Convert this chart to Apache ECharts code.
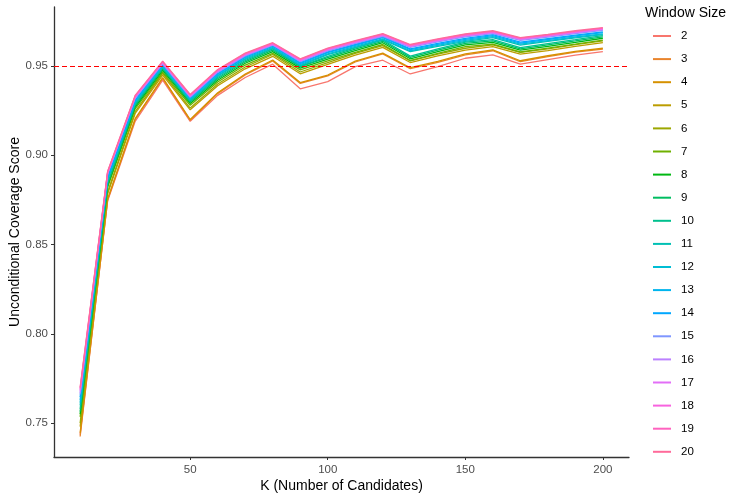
<!DOCTYPE html>
<html>
<head>
<meta charset="utf-8">
<script src="https://cdn.jsdelivr.net/npm/echarts@6/dist/echarts.min.js"></script>
<style>html,body{margin:0;padding:0;background:#fff}#c{width:750px;height:500px}</style>
</head>
<body>
<div id="c"></div>
<script>
const kValues = [10,20,30,40,50,60,70,80,90,100,110,120,130,140,150,160,170,180,190,200];
const windowSizes = ['2','3','4','5','6','7','8','9','10','11','12','13','14','15','16','17','18','19','20'];
const xTicks = [50,100,150,200];
const yTicks = [0.75,0.80,0.85,0.90,0.95];
const targetLevel = 0.95;

const w2  = [.7435,.8745,.919,.942,.919,.9335,.9435,.951,.9372,.9412,.9496,.9532,.9455,.9496,.9543,.9562,.951,.9535,.956,.958];
const w3  = [.7425,.875,.920,.943,.9195,.9345,.945,.9528,.9402,.9444,.9522,.9567,.9485,.952,.9562,.9585,.9524,.9552,.9577,.9594];
const w4  = [.7445,.8755,.9205,.9435,.920,.935,.9455,.9533,.9407,.9449,.9527,.9572,.949,.9525,.9567,.959,.9529,.9557,.9582,.9599];
const w5  = [.748,.8784,.9234,.9449,.9254,.9389,.9484,.9554,.9456,.9509,.956,.9604,.9519,.9556,.9589,.9608,.9566,.9586,.9609,.963];
const w6  = [.750,.8794,.9244,.9459,.9264,.9399,.9494,.9564,.9466,.9519,.957,.9614,.9529,.9566,.9599,.9618,.9576,.9596,.9619,.964];
const w7  = [.7535,.882,.926,.9465,.928,.941,.9505,.957,.9478,.9528,.9576,.962,.953,.957,.9608,.9622,.9578,.96,.9622,.9645];
const w8  = [.755,.883,.927,.9475,.929,.942,.9515,.958,.9488,.9538,.9586,.963,.954,.958,.9618,.9632,.9588,.961,.9632,.9655];
const w9  = [.7565,.8838,.9278,.9483,.9298,.9428,.9523,.9588,.9496,.9546,.9594,.9638,.9548,.9588,.9626,.964,.9596,.9618,.964,.9663];
const w10 = [.758,.8845,.9285,.949,.9305,.9435,.953,.9595,.9498,.9553,.9601,.9645,.9555,.9595,.9633,.9647,.9603,.9625,.9647,.967];
const w11 = [.760,.8862,.9292,.9492,.9307,.9442,.9537,.9599,.9502,.9563,.9604,.9647,.958,.961,.9638,.9659,.9617,.9637,.9657,.9675];
const w12 = [.7615,.8867,.9297,.9497,.9312,.9447,.9542,.9604,.9507,.9568,.9609,.9652,.9585,.9615,.9643,.9664,.9622,.9642,.9662,.968];
const w13 = [.763,.8873,.9303,.9503,.9318,.9453,.9548,.961,.9513,.9574,.9615,.9658,.9591,.9621,.9649,.967,.9628,.9648,.9668,.9686];
const w14 = [.7645,.8878,.9308,.9508,.9323,.9458,.9553,.9615,.9518,.9579,.962,.9663,.9596,.9626,.9654,.9675,.9633,.9653,.9673,.9691];
const w15 = [.766,.8894,.9319,.9511,.9324,.9464,.9556,.9617,.9524,.9584,.9626,.9665,.9604,.9635,.9663,.9681,.9643,.9661,.9681,.9699];
const w16 = [.767,.8898,.9323,.9515,.9328,.9468,.956,.9619,.9528,.9588,.963,.9669,.9608,.9639,.9667,.9685,.9647,.9665,.9685,.9703];
const w17 = [.768,.8901,.9326,.9518,.9331,.9471,.9563,.9621,.9531,.9591,.9633,.9672,.9611,.9642,.967,.9688,.965,.9668,.9688,.9706];
const w18 = [.7688,.8904,.9329,.9521,.9334,.9474,.9566,.9624,.9534,.9594,.9636,.9675,.9614,.9645,.9673,.9691,.9653,.9671,.9691,.9709];
const w19 = [.7695,.8907,.9332,.9524,.9337,.9477,.9569,.9627,.9537,.9597,.9639,.9678,.9617,.9648,.9676,.9694,.9656,.9674,.9694,.9712];
const w20 = [.770,.891,.9335,.9527,.934,.948,.9572,.963,.954,.960,.9642,.9681,.962,.9651,.9679,.9697,.9659,.9677,.9697,.9715];

const seriesValues = [w2,w3,w4,w5,w6,w7,w8,w9,w10,w11,w12,w13,w14,w15,w16,w17,w18,w19,w20];

// ggplot2 default hue palette (HCL, c=100, l=65)
function hcl(h, c, l) {
  const hr = h * Math.PI / 180;
  const U = c * Math.cos(hr), V = c * Math.sin(hr);
  const WX = 95.047, WY = 100, WZ = 108.883;
  const den = WX + 15 * WY + 3 * WZ;
  const un = 4 * WX / den, vn = 9 * WY / den;
  const Y = l > 8 ? WY * Math.pow((l + 16) / 116, 3) : WY * l / 903.3;
  const u = U / (13 * l) + un, v = V / (13 * l) + vn;
  const X = 9 * Y * u / (4 * v);
  const Z = -X / 3 - 5 * Y + 3 * Y / v;
  const x = X / 100, y = Y / 100, z = Z / 100;
  const lin = [
    3.240479 * x - 1.537150 * y - 0.498535 * z,
    -0.969256 * x + 1.875992 * y + 0.041556 * z,
    0.055648 * x - 0.204043 * y + 1.057311 * z
  ];
  const g = lin.map(t => {
    t = t <= 0.0031308 ? 12.92 * t : 1.055 * Math.pow(t, 1 / 2.4) - 0.055;
    return Math.round(Math.max(0, Math.min(1, t)) * 255);
  });
  return 'rgb(' + g.join(',') + ')';
}
const n = windowSizes.length;
const palette = windowSizes.map((_, i) => hcl(15 + i * 360 / n, 100, 65));

const series = windowSizes.map((name, i) => ({
  name: name,
  type: 'line',
  data: kValues.map((k, j) => [k, seriesValues[i][j]]),
  symbol: 'none',
  lineStyle: { width: 1.3, color: palette[i] },
  itemStyle: { color: palette[i] },
  animation: false,
  z: 3
}));
series.push({
  name: 'target',
  type: 'line',
  data: [],
  z: 2,
  animation: false,
  markLine: {
    silent: true,
    symbol: ['none', 'none'],
    label: { show: false },
    lineStyle: { color: '#FF0000', type: [5, 3], width: 1.2 },
    data: [{ yAxis: targetLevel }]
  }
});

const chart = echarts.init(document.getElementById('c'), null, { renderer: 'canvas' });
chart.setOption({
  backgroundColor: '#ffffff',
  animation: false,
  textStyle: { fontFamily: 'Liberation Sans, Arial, sans-serif' },
  title: {
    text: 'Window Size',
    left: 640,
    top: 1,
    textStyle: { fontSize: 14, fontWeight: 'normal', color: '#000', fontFamily: 'Liberation Sans, Arial, sans-serif' }
  },
  legend: {
    data: windowSizes,
    orient: 'vertical',
    left: 648,
    top: 24,
    icon: 'rect',
    itemWidth: 18,
    itemHeight: 2,
    itemGap: 9.1,
    textStyle: { fontSize: 11.5, color: '#000', lineHeight: 14, padding: [0, 0, 0, 5], fontFamily: 'Liberation Sans, Arial, sans-serif' }
  },
  grid: { left: 54, right: 121, top: 7, bottom: 43, containLabel: false, outerBoundsMode: 'none' },
  xAxis: {
    type: 'value',
    min: 0.5,
    max: 209.5,
    name: 'K (Number of Candidates)',
    nameLocation: 'middle',
    nameGap: 22,
    nameMoveOverlap: false,
    nameTextStyle: { fontSize: 14, color: '#000' },
    splitLine: { show: false },
    axisLine: { show: true, onZero: false, lineStyle: { color: '#333', width: 1.3 } },
    axisTick: { show: true, length: 3, customValues: xTicks, lineStyle: { color: '#333', width: 1 } },
    axisLabel: { customValues: xTicks, fontSize: 11.5, color: '#4D4D4D', margin: 7 }
  },
  yAxis: {
    type: 'value',
    min: 0.731,
    max: 0.983,
    name: 'Unconditional Coverage Score',
    nameLocation: 'middle',
    nameGap: 32,
    nameMoveOverlap: false,
    nameTextStyle: { fontSize: 14, color: '#000' },
    splitLine: { show: false },
    axisLine: { show: true, onZero: false, lineStyle: { color: '#333', width: 1.3 } },
    axisTick: { show: true, length: 3, customValues: yTicks, lineStyle: { color: '#333', width: 1 } },
    axisLabel: { customValues: yTicks, fontSize: 11.5, color: '#4D4D4D', margin: 6, formatter: v => v.toFixed(2) }
  },
  series: series
});
</script>
</body>
</html>
